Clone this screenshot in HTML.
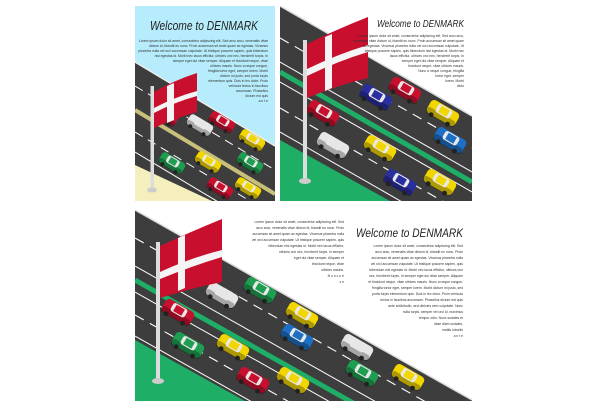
<!DOCTYPE html>
<html><head><meta charset="utf-8"><style>
html,body{margin:0;padding:0;background:#fff;width:612px;height:408px;overflow:hidden;position:relative}
svg{display:block;position:absolute;left:0;top:0}
.t{font-family:"Liberation Sans",sans-serif;font-size:3.4px;fill:#333}
.h{font-family:"Liberation Sans",sans-serif;fill:#222;font-style:italic}
</style></head><body>
<svg width="612" height="408" viewBox="0 0 612 408" xmlns="http://www.w3.org/2000/svg">
<defs>
<g id="car">
<rect x="-12" y="-5.5" width="24" height="11" rx="3"/>
<rect x="-12" y="1" width="24" height="5" rx="2" fill="#000" opacity=".28"/>
<rect x="-6" y="-5" width="12" height="7" rx="2" fill="#e8e8e8"/>
<rect x="-3.5" y="-4.2" width="7" height="5.4" fill="currentColor"/>
<circle cx="-7" cy="5.5" r="1.8" fill="#222"/><circle cx="7" cy="5.5" r="1.8" fill="#222"/>
</g>
<clipPath id="ca"><rect x="135" y="6" width="140" height="195"/></clipPath>
<clipPath id="cb"><rect x="280" y="6" width="192" height="195"/></clipPath>
<clipPath id="cc"><rect x="135" y="209" width="337" height="192"/></clipPath>
</defs>

<g clip-path="url(#ca)">
<rect x="135" y="6" width="140" height="195" fill="#b6ecfb"/>
<polygon points="135,62 275,146 275,201 135,201" fill="#3d3d3d"/>
<polygon points="135,165 212,201 135,201" fill="#f4efbd"/>
<line x1="135" y1="62" x2="275" y2="146" stroke="#eee" stroke-width="1.5"/>
<line x1="135" y1="110" x2="275" y2="194" stroke="#c8bf7a" stroke-width="4"/>
<line x1="135" y1="86" x2="275" y2="170" stroke="#fff" stroke-width="1" stroke-dasharray="9 6"/>
<line x1="135" y1="132" x2="275" y2="216" stroke="#fff" stroke-width="1" stroke-dasharray="9 6"/>
<line x1="135" y1="152" x2="275" y2="236" stroke="#fff" stroke-width="1"/>
<g transform="translate(200,125) rotate(31) scale(1.1)" fill="#e6e6e6" color="#e6e6e6"><use href="#car"/></g>
<g transform="translate(222,122) rotate(31) scale(1.1)" fill="#c8102e" color="#c8102e"><use href="#car"/></g>
<g transform="translate(165,115) rotate(31) scale(1.1)" fill="#c8102e" color="#c8102e"><use href="#car"/></g>
<g transform="translate(252,140) rotate(31) scale(1.1)" fill="#f2d600" color="#f2d600"><use href="#car"/></g>
<g transform="translate(172,163) rotate(31) scale(1.1)" fill="#1e9e50" color="#1e9e50"><use href="#car"/></g>
<g transform="translate(208,162) rotate(31) scale(1.1)" fill="#f2d600" color="#f2d600"><use href="#car"/></g>
<g transform="translate(250,163) rotate(31) scale(1.1)" fill="#1e9e50" color="#1e9e50"><use href="#car"/></g>
<g transform="translate(220,188) rotate(31) scale(1.1)" fill="#c8102e" color="#c8102e"><use href="#car"/></g>
<g transform="translate(248,188) rotate(31) scale(1.1)" fill="#f2d600" color="#f2d600"><use href="#car"/></g>
<rect x="150.5" y="86" width="3.5" height="104" fill="#ddd"/>
<ellipse cx="152" cy="190" rx="5" ry="2.5" fill="#ccc"/>
<path d="M154,92 Q175,80 197,73 L197,112 Q175,118 154,128 Z" fill="#c8102e"/>
<path d="M167,86 L174,83 L174,120 L167,123 Z M154,108 Q175,97 197,91 L197,96 Q175,102 154,113 Z" fill="#f4f4f4"/>
<text class="h" x="150" y="30" font-size="13" textLength="108" lengthAdjust="spacingAndGlyphs">Welcome to DENMARK</text>
<g class="t" text-anchor="end">
<text x="268" y="42">Lorem ipsum dolor sit amet, consectetur adipiscing elit. Sed arcu arcu, venenatis vitae</text>
<text x="268" y="47">dictum id, blandit eu nunc. Proin accumsan sit amet quam ac egestas. Vivamus</text>
<text x="268" y="52">pharetra nulla vel orci accumsan vulputate. Ut tristique posuere sapien, quis bibendum</text>
<text x="268" y="57">nisi egestas id. Morbi nec lacus efficitur, ultrices orci nec, hendrerit turpis. In</text>
<text x="268" y="62">semper eget dui vitae semper. Aliquam et tincidunt neque, vitae</text>
<text x="268" y="67">ultrices mauris. Nunc a neque congue,</text>
<text x="268" y="72">fringilla tortor eget, semper lorem. Morbi</text>
<text x="268" y="77">dictum mi justo, sed porta turpis</text>
<text x="268" y="82">elementum quis. Duis in leo dolor. Proin</text>
<text x="268" y="87">vehicula lectus in faucibus</text>
<text x="268" y="92">accumsan. Phasellus</text>
<text x="268" y="97">dictum est quis</text>
<text x="268" y="102">a n t e</text>
</g>
</g>

<g clip-path="url(#cb)">
<rect x="280" y="6" width="192" height="195" fill="#fff"/>
<polygon points="280,6 472,116 472,201 280,201" fill="#3d3d3d"/>
<polygon points="280,140 390,201 280,201" fill="#1fae66"/>
<line x1="280" y1="6" x2="472" y2="116" stroke="#ddd" stroke-width="1.5"/>
<line x1="280" y1="72" x2="472" y2="182" stroke="#1fae66" stroke-width="5"/>
<line x1="280" y1="38" x2="472" y2="148" stroke="#fff" stroke-width="1.1" stroke-dasharray="10 7"/>
<line x1="280" y1="62" x2="472" y2="172" stroke="#fff" stroke-width="1"/>
<line x1="280" y1="82" x2="472" y2="192" stroke="#fff" stroke-width="1"/>
<line x1="280" y1="108" x2="472" y2="218" stroke="#fff" stroke-width="1.1" stroke-dasharray="10 7"/>
<line x1="280" y1="132" x2="472" y2="242" stroke="#fff" stroke-width="1"/>
<g transform="translate(376,97) rotate(30) scale(1.35)" fill="#2a2fa0" color="#2a2fa0"><use href="#car"/></g>
<g transform="translate(405,90) rotate(30) scale(1.35)" fill="#c8102e" color="#c8102e"><use href="#car"/></g>
<g transform="translate(323,113) rotate(30) scale(1.35)" fill="#c8102e" color="#c8102e"><use href="#car"/></g>
<g transform="translate(443,113) rotate(30) scale(1.35)" fill="#f2d600" color="#f2d600"><use href="#car"/></g>
<g transform="translate(333,145) rotate(30) scale(1.35)" fill="#e6e6e6" color="#e6e6e6"><use href="#car"/></g>
<g transform="translate(380,148) rotate(30) scale(1.35)" fill="#f2d600" color="#f2d600"><use href="#car"/></g>
<g transform="translate(450,140) rotate(30) scale(1.35)" fill="#1d6fc4" color="#1d6fc4"><use href="#car"/></g>
<g transform="translate(400,182) rotate(30) scale(1.35)" fill="#2a2fa0" color="#2a2fa0"><use href="#car"/></g>
<g transform="translate(440,182) rotate(30) scale(1.35)" fill="#f2d600" color="#f2d600"><use href="#car"/></g>
<rect x="303" y="40" width="4" height="140" fill="#ddd"/>
<ellipse cx="305" cy="181" rx="6" ry="3" fill="#ccc"/>
<path d="M307,44 Q335,30 368,17 L368,78 Q338,85 307,98 Z" fill="#c8102e"/>
<path d="M325,37 L332,34 L332,88 L325,91 Z M307,69 Q338,54 368,45 L368,52 Q338,61 307,76 Z" fill="#f4f4f4"/>
<text class="h" x="377" y="27" font-size="10" textLength="87" lengthAdjust="spacingAndGlyphs">Welcome to DENMARK</text>
<g class="t" text-anchor="end" font-size="2.8">
<text x="464" y="37">Lorem ipsum dolor sit amet, consectetur adipiscing elit. Sed arcu arcu,</text>
<text x="464" y="42">venenatis vitae dictum id, blandit eu nunc. Proin accumsan sit amet quam</text>
<text x="464" y="47">ac egestas. Vivamus pharetra nulla vel orci accumsan vulputate. Ut</text>
<text x="464" y="52">tristique posuere sapien, quis bibendum nisi egestas id. Morbi nec</text>
<text x="464" y="57">lacus efficitur, ultrices orci nec, hendrerit turpis. In</text>
<text x="464" y="62">semper eget dui vitae semper. Aliquam et</text>
<text x="464" y="67">tincidunt neque, vitae ultrices mauris.</text>
<text x="464" y="72">Nunc a neque congue, fringilla</text>
<text x="464" y="77">tortor eget, semper</text>
<text x="464" y="82">lorem. Morbi</text>
<text x="464" y="87">dictu</text>
</g>
</g>

<g clip-path="url(#cc)">
<rect x="135" y="209" width="337" height="192" fill="#fff"/>
<polygon points="135,210 472,400 472,401 135,401" fill="#3d3d3d"/>
<polygon points="135,340 245,401 135,401" fill="#1fae66"/>
<line x1="135" y1="210" x2="472" y2="400" stroke="#ddd" stroke-width="1.5"/>
<line x1="135" y1="280" x2="472" y2="470" stroke="#1fae66" stroke-width="5"/>
<line x1="135" y1="238" x2="472" y2="428" stroke="#fff" stroke-width="1.1" stroke-dasharray="10 7"/>
<line x1="135" y1="266" x2="472" y2="456" stroke="#fff" stroke-width="1"/>
<line x1="135" y1="292" x2="472" y2="482" stroke="#fff" stroke-width="1"/>
<line x1="135" y1="315" x2="472" y2="505" stroke="#fff" stroke-width="1.1" stroke-dasharray="10 7"/>
<line x1="135" y1="336" x2="472" y2="526" stroke="#fff" stroke-width="1"/>
<g transform="translate(222,295) rotate(30) scale(1.35)" fill="#e6e6e6" color="#e6e6e6"><use href="#car"/></g>
<g transform="translate(260,290) rotate(30) scale(1.35)" fill="#1e9e50" color="#1e9e50"><use href="#car"/></g>
<g transform="translate(178,312) rotate(30) scale(1.35)" fill="#c8102e" color="#c8102e"><use href="#car"/></g>
<g transform="translate(302,315) rotate(30) scale(1.35)" fill="#f2d600" color="#f2d600"><use href="#car"/></g>
<g transform="translate(188,345) rotate(30) scale(1.35)" fill="#1e9e50" color="#1e9e50"><use href="#car"/></g>
<g transform="translate(233,347) rotate(30) scale(1.35)" fill="#f2d600" color="#f2d600"><use href="#car"/></g>
<g transform="translate(297,337) rotate(30) scale(1.35)" fill="#1d6fc4" color="#1d6fc4"><use href="#car"/></g>
<g transform="translate(357,347) rotate(30) scale(1.35)" fill="#e6e6e6" color="#e6e6e6"><use href="#car"/></g>
<g transform="translate(253,380) rotate(30) scale(1.35)" fill="#c8102e" color="#c8102e"><use href="#car"/></g>
<g transform="translate(293,380) rotate(30) scale(1.35)" fill="#f2d600" color="#f2d600"><use href="#car"/></g>
<g transform="translate(362,373) rotate(30) scale(1.35)" fill="#1e9e50" color="#1e9e50"><use href="#car"/></g>
<g transform="translate(408,377) rotate(30) scale(1.35)" fill="#f2d600" color="#f2d600"><use href="#car"/></g>
<rect x="156" y="242" width="4" height="138" fill="#ddd"/>
<ellipse cx="158" cy="381" rx="6" ry="3" fill="#ccc"/>
<path d="M160,246 Q190,232 222,219 L222,282 Q192,288 160,298 Z" fill="#c8102e"/>
<path d="M178,238 L185,235 L185,288 L178,291 Z M160,272 Q190,258 222,250 L222,257 Q192,266 160,279 Z" fill="#f4f4f4"/>
<g class="t" text-anchor="end" font-size="3.3">
<text x="344" y="223">Lorem ipsum dolor sit amet, consectetur adipiscing elit. Sed</text>
<text x="344" y="229">arcu arcu, venenatis vitae dictum id, blandit eu nunc. Proin</text>
<text x="344" y="235">accumsan sit amet quam ac egestas. Vivamus pharetra nulla</text>
<text x="344" y="241">vel orci accumsan vulputate. Ut tristique posuere sapien, quis</text>
<text x="344" y="247">bibendum nisi egestas id. Morbi nec lacus efficitur,</text>
<text x="344" y="253">ultrices orci nec, hendrerit turpis. In semper</text>
<text x="344" y="259">eget dui vitae semper. Aliquam et</text>
<text x="344" y="265">tincidunt neque, vitae</text>
<text x="344" y="271">ultrices mauris.</text>
<text x="344" y="277">N u n c u e</text>
<text x="344" y="283">z n</text>
</g>
<text class="h" x="356" y="237" font-size="12" textLength="107" lengthAdjust="spacingAndGlyphs">Welcome to DENMARK</text>
<g class="t" text-anchor="end" font-size="3.3">
<text x="463" y="247">Lorem ipsum dolor sit amet, consectetur adipiscing elit. Sed</text>
<text x="463" y="253">arcu arcu, venenatis vitae dictum id, blandit eu nunc. Proin</text>
<text x="463" y="259">accumsan sit amet quam ac egestas. Vivamus pharetra nulla</text>
<text x="463" y="265">vel orci accumsan vulputate. Ut tristique posuere sapien, quis</text>
<text x="463" y="271">bibendum nisi egestas id. Morbi nec lacus efficitur, ultrices orci</text>
<text x="463" y="277">nec, hendrerit turpis. In semper eget dui vitae semper. Aliquam</text>
<text x="463" y="283">et tincidunt neque, vitae ultrices mauris. Nunc a neque congue,</text>
<text x="463" y="289">fringilla tortor eget, semper lorem. Morbi dictum mi justo, sed</text>
<text x="463" y="295">porta turpis elementum quis. Duis in leo dolor. Proin vehicula</text>
<text x="463" y="301">lectus in faucibus accumsan. Phasellus dictum est quis</text>
<text x="463" y="307">ante sollicitudin, sed ultricies sem vulputate. Nunc</text>
<text x="463" y="313">nulla turpis, semper vel orci id, maximus</text>
<text x="463" y="319">tempor odio. Nunc sodales et</text>
<text x="463" y="325">vitae diam sodales,</text>
<text x="463" y="331">mattis lobortis</text>
<text x="463" y="337">a n t e</text>
</g>
</g>
</svg>
</body></html>
